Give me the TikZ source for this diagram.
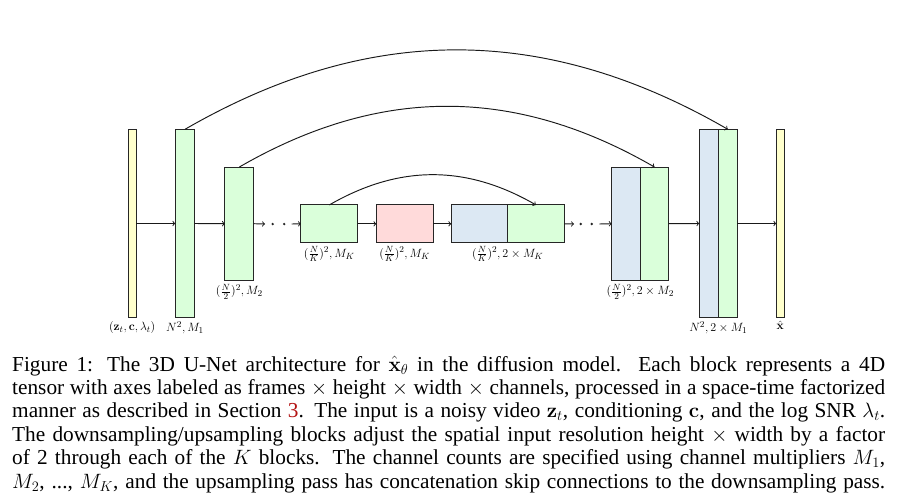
\documentclass[tikz,border=0pt]{standalone}
\usepackage{amsmath}
\usepackage[no-math]{fontspec}
\setmainfont{Liberation Serif}
\definecolor{cgreen}{RGB}{218,255,218}
\definecolor{cred}{RGB}{255,218,218}
\definecolor{cblue}{RGB}{220,232,243}
\definecolor{cyel}{RGB}{255,255,204}
\definecolor{linkred}{RGB}{180,20,20}
\begin{document}
\begin{tikzpicture}[x=1pt,y=-1pt,
  blk/.style={draw=black!85, line width=1pt, inner sep=0pt, outer sep=0pt, rectangle},
  gblk/.style={blk, fill=cgreen},
  rblk/.style={blk, fill=cred},
  bblk/.style={blk, fill=cblue},
  yblk/.style={blk, fill=cyel},
  arr/.style={->, line width=0.95pt, black!90},
  skiparr/.style={->, line width=0.95pt, black!90, bend left=30},
  lab/.style={anchor=north, inner sep=3.5pt, font=\fontsize{12.5}{15}\selectfont},
  dotmark/.style={circle, fill=black!85, inner sep=0pt, minimum size=2.6pt},
  capnode/.style={anchor=base west, inner sep=0pt,
    font=\fontsize{21.3}{23.4}\selectfont}]
\useasboundingbox (0,0) rectangle (897,501);

% blocks
\node[yblk, minimum width=8pt, minimum height=188.4pt] (in) at (132.2,223.5) {};
\node[gblk, minimum width=19.4pt, minimum height=188.4pt] (d1) at (185,223.5) {};
\node[gblk, minimum width=28.7pt, minimum height=113.3pt] (d2) at (239.3,223.7) {};
\node[gblk, minimum width=56.7pt, minimum height=37.7pt] (d3) at (329.3,223.8) {};
\node[rblk, minimum width=56.7pt, minimum height=37.7pt] (mid) at (404.7,223.8) {};
\node[bblk, minimum width=56.4pt, minimum height=37.7pt] (uKb) at (479.5,223.8) {};
\node[gblk, minimum width=56.6pt, minimum height=37.7pt] (uKg) at (536,223.8) {};
\node[bblk, minimum width=28.6pt, minimum height=113.3pt] (u2b) at (626,223.7) {};
\node[gblk, minimum width=28.4pt, minimum height=113.3pt] (u2g) at (654.5,223.7) {};
\node[bblk, minimum width=19pt, minimum height=188.4pt] (u1b) at (708.8,223.5) {};
\node[gblk, minimum width=19pt, minimum height=188.4pt] (u1g) at (727.8,223.5) {};
\node[yblk, minimum width=8pt, minimum height=188.4pt] (out) at (780.3,223.5) {};

% dots
\coordinate (c1) at (265,224);
\node[dotmark] (p1) at (272.7,224) {};
\node[dotmark] (p2) at (284.2,224) {};
\coordinate (c2) at (291.7,224);
\coordinate (c3) at (574,224);
\node[dotmark] (p3) at (580.7,224) {};
\node[dotmark] (p4) at (591.7,224) {};
\coordinate (c4) at (599.3,224);

% horizontal arrows
\draw[arr] (in.east) -- (d1.west);
\draw[arr] (d1.east) -- (d2.west);
\draw[arr] (d2.east) -- (c1);
\draw[arr] (c2) -- (d3.west);
\draw[arr] (d3.east) -- (mid.west);
\draw[arr] (mid.east) -- (uKb.west);
\draw[arr] (uKg.east) -- (c3);
\draw[arr] (c4) -- (u2b.west);
\draw[arr] (u2g.east) -- (u1b.west);
\draw[arr] (u1g.east) -- (out.west);

% skip connections
\draw[skiparr] (d1.north) to (u1g.north);
\draw[skiparr] (d2.north) to (u2g.north);
\draw[skiparr] (d3.north) to (uKg.north);

% labels
\node[lab] (lin) at (in.south) {$(\mathbf{z}_t, \mathbf{c}, \lambda_t)$};
\node[lab] (ld1) at (d1.south) {$N^2, M_1$};
\node[lab] (ld2) at (d2.south) {$(\frac{N}{2})^2, M_2$};
\node[lab] (ld3) at (d3.south) {$(\frac{N}{K})^2, M_K$};
\node[lab] (lmid) at (mid.south) {$(\frac{N}{K})^2, M_K$};
\node[lab] (luK) at (uKb.south east) {$(\frac{N}{K})^2, 2\times M_K$};
\node[lab] (lu2) at (u2b.south east) {$(\frac{N}{2})^2, 2\times M_2$};
\node[lab] (lu1) at (u1b.south east) {$N^2, 2\times M_1$};
\node[lab] (lout) at (out.south) {$\hat{\mathbf{x}}$};

% caption
\node[capnode] (caption) at (12,371) {\vtop{%
\hbox to 873pt{Figure 1: The 3D U-Net architecture for $\hat{\mathbf{x}}_\theta$ in the diffusion model. Each block represents a 4D}
\hbox to 873pt{tensor with axes labeled as frames $\times$ height $\times$ width $\times$ channels, processed in a space-time factorized}
\hbox to 873pt{manner as described in Section \textcolor{linkred}{3}. The input is a noisy video $\mathbf{z}_t$, conditioning $\mathbf{c}$, and the log SNR $\lambda_t$.}
\hbox to 873pt{The downsampling/upsampling blocks adjust the spatial input resolution height $\times$ width by a factor}
\hbox to 873pt{of 2 through each of the $K$ blocks. The channel counts are specified using channel multipliers $M_1$,}
\hbox to 873pt{$M_2$, ..., $M_K$, and the upsampling pass has concatenation skip connections to the downsampling pass.}}};
\end{tikzpicture}
\end{document}
